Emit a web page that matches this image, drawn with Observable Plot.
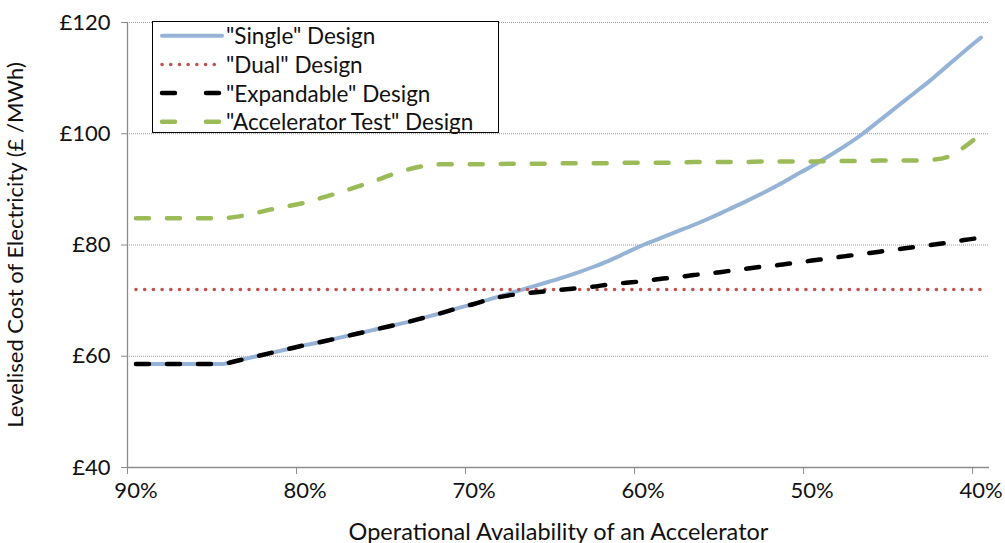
<!DOCTYPE html>
<html><head><meta charset="utf-8">
<script src="https://cdn.jsdelivr.net/npm/d3@7"></script>
<script src="https://cdn.jsdelivr.net/npm/@observablehq/plot@0.6"></script>
<style>
body{margin:0;background:#fff;}
#wrap{position:relative;width:1005px;height:543px;font-family:Lato, "Open Sans", sans-serif;color:#111;}
#legend{position:absolute;left:152px;top:21px;width:345px;height:110px;border:1px solid #000;background:#fff;}
#legend svg{display:block;overflow:visible;}
</style></head><body><div id="wrap"></div>
<script>
const availability = [90,89,88,87,86,85,84,83,82,81,80,79,78,77,76,75,74,73,72,71,70,69,68,67,66,65,64,63,62,61,60,59,58,57,56,55,54,53,52,51,50,49,48,47,46,45,44,43,42,41,40];
const singleDesign = [58.6,58.6,58.6,58.6,58.6,58.6,59.2,59.9,60.6,61.3,62.0,62.6,63.3,64.0,64.7,65.4,66.1,66.9,67.7,68.6,69.4,70.3,71.2,72.1,73.0,73.9,74.9,76.0,77.2,78.6,80.0,81.2,82.4,83.6,84.9,86.3,87.7,89.2,90.8,92.5,94.2,96.0,97.9,100.0,102.4,104.8,107.2,109.6,112.2,114.8,117.3];
const dualDesign = [72,72,72,72,72,72,72,72,72,72,72,72,72,72,72,72,72,72,72,72,72,72,72,72,72,72,72,72,72,72,72,72,72,72,72,72,72,72,72,72,72,72,72,72,72,72,72,72,72,72,72];
const expandableDesign = [58.6,58.6,58.6,58.6,58.6,58.6,59.2,59.9,60.6,61.3,62.0,62.6,63.3,64.0,64.7,65.4,66.1,66.9,67.7,68.6,69.4,70.3,70.9,71.3,71.6,71.9,72.2,72.5,72.9,73.2,73.5,73.9,74.2,74.6,74.9,75.3,75.7,76.1,76.4,76.8,77.2,77.6,78.0,78.4,78.8,79.2,79.6,80.0,80.4,80.9,81.3];
const acceleratorTestDesign = [84.8,84.8,84.8,84.8,84.8,84.8,85.1,85.7,86.4,87.0,87.6,88.5,89.4,90.4,91.4,92.5,93.5,94.2,94.5,94.5,94.5,94.5,94.6,94.6,94.6,94.7,94.7,94.7,94.7,94.8,94.8,94.8,94.8,94.9,94.9,94.9,94.9,95.0,95.0,95.0,95.0,95.1,95.1,95.1,95.2,95.2,95.2,95.3,95.8,97.6,100.0];
const seriesNames = ['"Single" Design','"Dual" Design','"Expandable" Design','"Accelerator Test" Design'];
const yTicks = [40,60,80,100,120];
const xTickLabels = [90,80,70,60,50,40];

const styles = [
  {stroke:"#95B3D7", strokeWidth:4, strokeDasharray:null, strokeLinecap:"round"},
  {stroke:"#C0504D", strokeWidth:3.5, strokeDasharray:"0.1,8.6", strokeLinecap:"round"},
  {stroke:"#000000", strokeWidth:4.5, strokeDasharray:"13,18", strokeLinecap:"round"},
  {stroke:"#9BBB59", strokeWidth:4.5, strokeDasharray:"13,18", strokeLinecap:"round"}
];
const values = [singleDesign, dualDesign, expandableDesign, acceleratorTestDesign];
const table = values.map(v => availability.map((a,i) => ({x:a, y:v[i]})));
const boundaries = xTickLabels.map(d => d + 0.5);

const lineMarks = [0,1,2,3].map(k => Plot.line(table[k], {x:"x", y:"y", curve:"monotone-x", ...Object.fromEntries(Object.entries(styles[k]).filter(([,v]) => v != null))}));

const chart = Plot.plot({
  width:1005, height:543,
  marginLeft:127, marginRight:16, marginTop:22, marginBottom:76,
  style:{fontFamily:"Lato, 'Open Sans', sans-serif", fontSize:"22px", color:"#111", background:"#fff"},
  x:{domain:[availability[0]+0.5, availability[availability.length-1]-0.5]},
  y:{domain:[yTicks[0], yTicks[yTicks.length-1]]},
  marks:[
    Plot.gridY(yTicks.slice(1), {stroke:"#9a9a9a", strokeOpacity:1, strokeDasharray:"1,1"}),
    Plot.ruleX([boundaries[0]], {stroke:"#8c8c8c", strokeWidth:1.3}),
    Plot.ruleY([yTicks[0]], {stroke:"#8c8c8c", strokeWidth:1.3}),
    Plot.axisY({ticks:yTicks, tickFormat:d => "£" + d, tickSize:6, tickPadding:11, stroke:"#8c8c8c", fontSize:22,
      label:"Levelised Cost of Electricity (£ /MWh)", labelAnchor:"center", labelArrow:false, labelOffset:120}),
    Plot.axisX({ticks:boundaries, tickFormat:() => "", tickSize:7, stroke:"#8c8c8c", label:null}),
    Plot.axisX({ticks:xTickLabels, tickFormat:d => d + "%", tickSize:0, tickPadding:15, fontSize:22,
      label:"Operational Availability of an Accelerator", labelAnchor:"center", labelArrow:false, labelOffset:72}),
    ...lineMarks
  ]
});
const wrap = document.getElementById("wrap");
wrap.appendChild(chart);
chart.querySelectorAll("text").forEach(t => {
  if (t.textContent === "Operational Availability of an Accelerator") t.setAttribute("font-size", "23.5px");
});

// legend
const legend = document.createElement("div");
legend.id = "legend";
const ns = "http://www.w3.org/2000/svg";
const svg = document.createElementNS(ns, "svg");
svg.setAttribute("width", 345); svg.setAttribute("height", 110);
seriesNames.forEach((name, k) => {
  const cy = 13.7 + k * 28.7;
  const ln = document.createElementNS(ns, "line");
  ln.setAttribute("x1", 9); ln.setAttribute("x2", 69);
  ln.setAttribute("y1", cy); ln.setAttribute("y2", cy);
  const s = styles[k];
  ln.setAttribute("stroke", s.stroke);
  ln.setAttribute("stroke-width", s.strokeWidth);
  ln.setAttribute("stroke-linecap", s.strokeLinecap);
  if (s.strokeDasharray) ln.setAttribute("stroke-dasharray", k === 1 ? "0.1,8.6" : "13,31");
  svg.appendChild(ln);
  const t = document.createElementNS(ns, "text");
  t.setAttribute("x", 73); t.setAttribute("y", cy);
  t.setAttribute("dominant-baseline", "central");
  t.setAttribute("font-size", "22.5px");
  t.setAttribute("fill", "#111");
  t.setAttribute("font-family", "Lato, 'Open Sans', sans-serif");
  t.textContent = name;
  svg.appendChild(t);
});
legend.appendChild(svg);
wrap.appendChild(legend);
</script>
</body></html>
